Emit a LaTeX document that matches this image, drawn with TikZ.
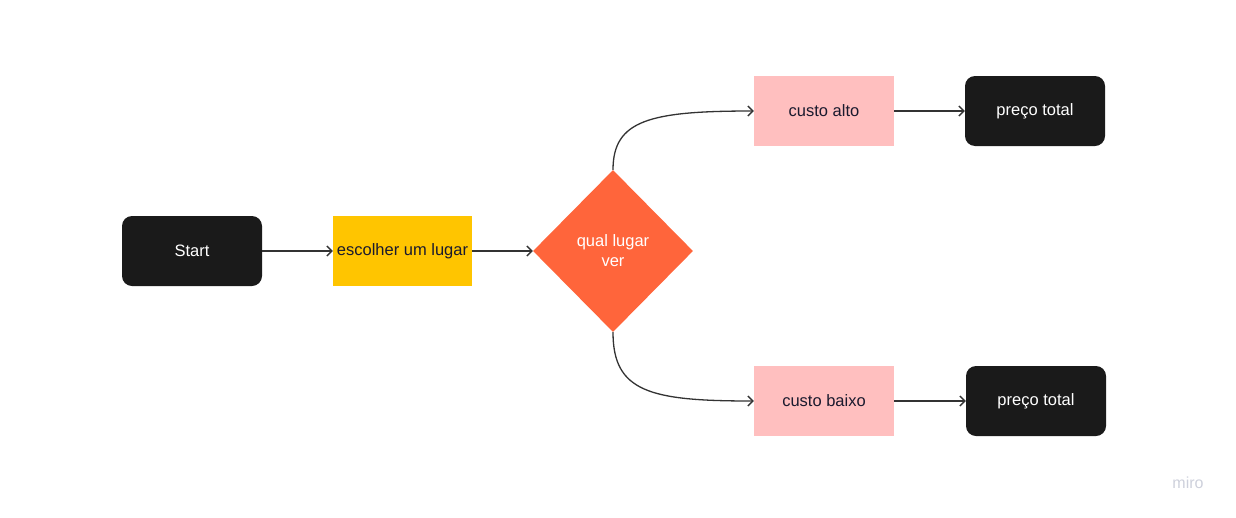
\documentclass[tikz,border=0pt]{standalone}
\usepackage{fontspec}
\setmainfont{Liberation Sans}
\usetikzlibrary{shapes.geometric,arrows.meta}
\definecolor{dark}{HTML}{1A1A1A}
\definecolor{txt}{HTML}{1A1A2E}
\definecolor{yel}{HTML}{FFC500}
\definecolor{org}{HTML}{FF653B}
\definecolor{pnk}{HTML}{FFBFBF}
\definecolor{lnk}{HTML}{333333}
\definecolor{logo}{HTML}{CDD0DB}
\begin{document}
\begin{tikzpicture}[x=1pt,y=-1pt,
  every node/.style={font=\fontsize{16.5}{20}\selectfont, inner sep=0pt, align=center},
  term/.style={fill=dark, rounded corners=10pt, minimum width=140pt, minimum height=70pt, text=white},
  procbox/.style={fill=yel, minimum width=139pt, minimum height=70pt, text=txt},
  costbox/.style={fill=pnk, minimum width=140pt, minimum height=70pt, text=txt},
  decbox/.style={fill=org, diamond, minimum width=160pt, minimum height=162pt, text=white},
  conn/.style={draw=lnk, line width=1.3pt, -{Straight Barb[length=5pt,width=10pt,line width=1.3pt]}}
]
\useasboundingbox (0,0) rectangle (1236,517);
\node[term] (start) at (192,251) {Start};
\node[procbox] (esc) at (402.5,251) {escolher um lugar};
\node[decbox] (dec) at (613,251) {qual lugar\\ver};
\node[costbox] (alto) at (824,111) {custo alto};
\node[costbox] (baixo) at (824,401) {custo baixo};
\node[term] (pt1) at (1035,111) {preço total};
\node[term] (pt2) at (1036,401) {preço total};
\node[text=logo, font=\fontsize{16}{18}\selectfont] (miro) at (1188,483) {miro};
\draw[conn] (start.east) -- (esc.west);
\draw[conn] (esc.east) -- (dec.west);
\draw[conn] (dec.north) .. controls (613,120) and (650,111) .. (alto.west);
\draw[conn] (dec.south) .. controls (613,392) and (650,401) .. (baixo.west);
\draw[conn] (alto.east) -- (pt1.west);
\draw[conn] (baixo.east) -- (pt2.west);
\end{tikzpicture}
\end{document}
